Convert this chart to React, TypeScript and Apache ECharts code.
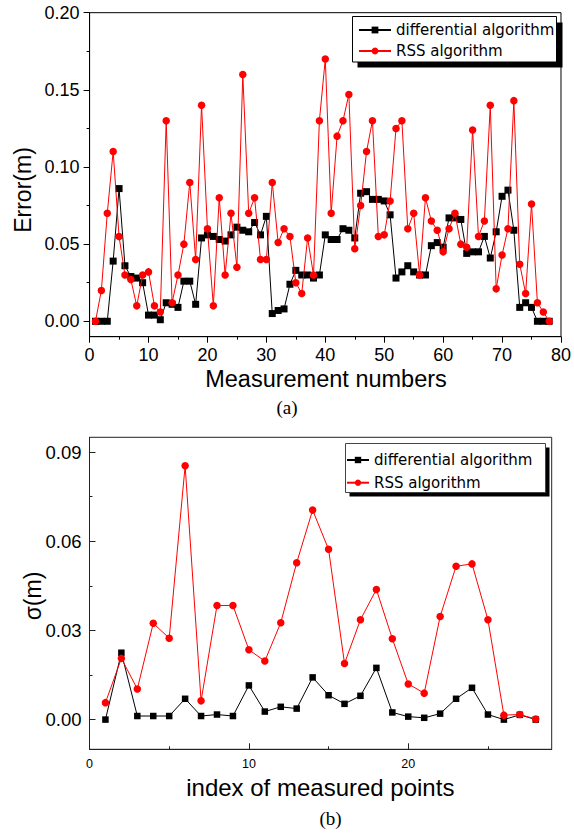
import React, { useEffect, useRef } from "react";
import * as echarts from "echarts";

// ---------- data ----------
const seriesNames = ["differential algorithm", "RSS algorithm"];

// (a) Error per measurement number (1..78)
const topIndex = Array.from({ length: 78 }, (_, i) => i + 1);
const topDifferential = [
  0, 0, 0, 0.039, 0.086, 0.036, 0.029, 0.028, 0.025, 0.004,
  0.004, 0.001, 0.012, 0.011, 0.009, 0.026, 0.026, 0.011, 0.054, 0.056,
  0.055, 0.053, 0.052, 0.056, 0.061, 0.059, 0.058, 0.064, 0.056, 0.068,
  0.005, 0.007, 0.008, 0.024, 0.033, 0.03, 0.03, 0.028, 0.03, 0.056,
  0.053, 0.053, 0.06, 0.059, 0.054, 0.083, 0.084, 0.079, 0.079, 0.078,
  0.069, 0.028, 0.032, 0.036, 0.032, 0.03, 0.03, 0.049, 0.051, 0.048,
  0.067, 0.067, 0.066, 0.044, 0.045, 0.045, 0.055, 0.041, 0.058, 0.081,
  0.085, 0.059, 0.009, 0.012, 0.009, 0, 0, 0,
];
const topRss = [
  0, 0.02, 0.07, 0.11, 0.055, 0.03, 0.027, 0.01, 0.03, 0.032,
  0.01, 0.006, 0.13, 0.012, 0.03, 0.05, 0.09, 0.04, 0.14, 0.06,
  0.01, 0.08, 0.03, 0.07, 0.035, 0.16, 0.07, 0.08, 0.04, 0.04,
  0.09, 0.051, 0.06, 0.055, 0.025, 0.018, 0.054, 0.03, 0.13, 0.17,
  0.07, 0.12, 0.13, 0.147, 0.047, 0.075, 0.11, 0.13, 0.055, 0.056,
  0.078, 0.125, 0.13, 0.06, 0.07, 0.03, 0.08, 0.065, 0.059, 0.045,
  0.06, 0.07, 0.05, 0.048, 0.124, 0.055, 0.065, 0.14, 0.021, 0.043,
  0.06, 0.143, 0.037, 0.018, 0.076, 0.012, 0.006, 0,
];

// (b) sigma per measured point (1..28)
const bottomIndex = Array.from({ length: 28 }, (_, i) => i + 1);
const bottomDifferential = [
  0, 0.0225, 0.0012, 0.0012, 0.0012, 0.007, 0.0012, 0.0017, 0.0012, 0.0115,
  0.0027, 0.0043, 0.0037, 0.0142, 0.0082, 0.0053, 0.008, 0.0174, 0.0024, 0.001,
  0.0006, 0.002, 0.007, 0.0107, 0.0017, 0, 0.0016, 0,
];
const bottomRss = [
  0.0057, 0.0206, 0.0103, 0.0324, 0.0274, 0.0854, 0.0063, 0.0384, 0.0384, 0.0235,
  0.0197, 0.0326, 0.0528, 0.0705, 0.0573, 0.0189, 0.0336, 0.0438, 0.0272, 0.012,
  0.0089, 0.0347, 0.0516, 0.0524, 0.0336, 0.0015, 0.0017, 0.0002,
];

// ticks
const topXTicks = [0, 10, 20, 30, 40, 50, 60, 70, 80];
const topXMinor = [5, 15, 25, 35, 45, 55, 65, 75];
const topYTicks = [0, 0.05, 0.1, 0.15, 0.2];
const topYMinor = [0.025, 0.075, 0.125, 0.175];
const bottomXTicks = [0, 10, 20];
const bottomXMinor = [5, 15, 25];
const bottomYTicks = [0, 0.03, 0.06, 0.09];
const bottomYMinor = [0.015, 0.045, 0.075];

const SANS = '"Liberation Sans", Arial, sans-serif';
const LEG = '"DejaVu Sans", Verdana, sans-serif';
const SERIF = '"Liberation Serif", "Times New Roman", serif';

function pairs(xs: number[], ys: number[]) {
  return xs.map((x, i) => [x, ys[i]]);
}

function majorAxis(
  grid: number,
  min: number,
  max: number,
  ticks: number[],
  inside: boolean,
  fontSize: number,
  margin: number,
  digits: number,
  position: string,
  color: string
) {
  return {
    type: "value",
    gridIndex: grid,
    position,
    min,
    max,
    axisLine: { show: true, onZero: false, lineStyle: { color, width: 1 } },
    axisTick: { show: true, inside, length: 6, customValues: ticks, lineStyle: { color, width: 1 } },
    axisLabel: {
      show: true,
      customValues: ticks,
      margin,
      color: "#000",
      fontFamily: SANS,
      fontSize,
      formatter: (v: number) => v.toFixed(digits),
    },
    splitLine: { show: false },
  };
}

function minorAxis(grid: number, min: number, max: number, ticks: number[], inside: boolean, position: string, color: string) {
  return {
    type: "value",
    gridIndex: grid,
    position,
    min,
    max,
    axisLine: { show: false, onZero: false },
    axisTick: { show: true, inside, length: 3, customValues: ticks, lineStyle: { color, width: 1 } },
    axisLabel: { show: false },
    splitLine: { show: false },
  };
}

export default function App() {
  const ref = useRef<HTMLDivElement>(null);

  useEffect(() => {
    if (!ref.current) return;
    const chart = echarts.init(ref.current, undefined, { renderer: "svg" });
    const option: any = {
      animation: false,
      backgroundColor: "#fff",
      grid: [
        { left: 89.6, top: 12.7, width: 473.7, height: 324, show: true, borderColor: "#000", borderWidth: 1, backgroundColor: "transparent" },
        { left: 89.5, top: 437.3, width: 462.2, height: 312, show: true, borderColor: "#222", borderWidth: 1, backgroundColor: "transparent" },
      ],
      xAxis: [
        majorAxis(0, 0, 80, topXTicks, false, 18, 9, 0, "bottom", "#000"),
        minorAxis(0, 0, 80, topXMinor, false, "bottom", "#000"),
        majorAxis(1, 0, 29, bottomXTicks, true, 12.5, 8, 0, "bottom", "#222"),
        minorAxis(1, 0, 29, bottomXMinor, true, "bottom", "#222"),
      ],
      yAxis: [
        majorAxis(0, -0.01, 0.2, topYTicks, false, 18, 10, 2, "left", "#000"),
        minorAxis(0, -0.01, 0.2, topYMinor, false, "left", "#000"),
        majorAxis(1, -0.01, 0.095, bottomYTicks, true, 18.5, 8, 2, "left", "#222"),
        minorAxis(1, -0.01, 0.095, bottomYMinor, true, "left", "#222"),
      ],
      legend: [
        {
          data: seriesNames,
          orient: "vertical",
          left: 358,
          top: 20,
          padding: 0,
          itemGap: 1,
          itemWidth: 32,
          itemHeight: 8.5,
          selectedMode: false,
          textStyle: { fontFamily: LEG, fontSize: 15, color: "#000", lineHeight: 20 },
          z: 20,
        },
        {
          data: seriesNames,
          orient: "vertical",
          left: 346,
          top: 450,
          padding: 0,
          itemGap: 2.7,
          itemWidth: 22,
          itemHeight: 8,
          selectedMode: false,
          textStyle: { fontFamily: LEG, fontSize: 15, color: "#000", lineHeight: 20 },
          z: 20,
        },
      ],
      graphic: [
        // legend (a) box + shadow
        { type: "rect", z: 10, shape: { x: 357.5, y: 22.5, width: 205, height: 45 }, style: { fill: "#000" } },
        { type: "rect", z: 11, shape: { x: 352.5, y: 16.5, width: 204, height: 45.5 }, style: { fill: "#fff", stroke: "#000", lineWidth: 1 } },
        // legend (b) box + shadow
        { type: "rect", z: 10, shape: { x: 349.5, y: 447.5, width: 200, height: 49 }, style: { fill: "#000" } },
        { type: "rect", z: 11, shape: { x: 345.5, y: 443.5, width: 200, height: 49 }, style: { fill: "#fff", stroke: "#444", lineWidth: 1 } },
        // axis titles
        {
          type: "text", x: 23, y: 190, rotation: Math.PI / 2, z: 30,
          style: { text: "Error(m)", fontFamily: SANS, fontSize: 23, fill: "#000", align: "center", verticalAlign: "middle" },
        },
        {
          type: "text", x: 326, y: 379, z: 30,
          style: { text: "Measurement numbers", fontFamily: SANS, fontSize: 23.5, fill: "#000", align: "center", verticalAlign: "middle" },
        },
        {
          type: "text", x: 287, y: 407, z: 30,
          style: { text: "(a)", fontFamily: SERIF, fontSize: 19, fill: "#000", align: "center", verticalAlign: "middle" },
        },
        {
          type: "text", x: 32.5, y: 596, rotation: Math.PI / 2, z: 30,
          style: { text: "σ(m)", fontFamily: SANS, fontSize: 23, fill: "#000", align: "center", verticalAlign: "middle" },
        },
        {
          type: "text", x: 320.3, y: 787, z: 30,
          style: { text: "index of measured points", fontFamily: SANS, fontSize: 24, fill: "#000", align: "center", verticalAlign: "middle" },
        },
        {
          type: "text", x: 330.5, y: 818, z: 30,
          style: { text: "(b)", fontFamily: SERIF, fontSize: 19, fill: "#000", align: "center", verticalAlign: "middle" },
        },
      ],
      series: [
        {
          name: seriesNames[0], type: "line", xAxisIndex: 0, yAxisIndex: 0,
          data: pairs(topIndex, topDifferential),
          symbol: "rect", symbolSize: 7, showAllSymbol: true,
          itemStyle: { color: "#000" }, lineStyle: { color: "#000", width: 1 }, z: 2,
        },
        {
          name: seriesNames[1], type: "line", xAxisIndex: 0, yAxisIndex: 0,
          data: pairs(topIndex, topRss),
          symbol: "circle", symbolSize: 7.5, showAllSymbol: true,
          itemStyle: { color: "#ff0000" }, lineStyle: { color: "#ff0000", width: 1 }, z: 3,
        },
        {
          name: seriesNames[0], type: "line", xAxisIndex: 2, yAxisIndex: 2,
          data: pairs(bottomIndex, bottomDifferential),
          symbol: "rect", symbolSize: 6.5, showAllSymbol: true,
          itemStyle: { color: "#000" }, lineStyle: { color: "#000", width: 1 }, z: 2,
        },
        {
          name: seriesNames[1], type: "line", xAxisIndex: 2, yAxisIndex: 2,
          data: pairs(bottomIndex, bottomRss),
          symbol: "circle", symbolSize: 7.5, showAllSymbol: true,
          itemStyle: { color: "#ff0000" }, lineStyle: { color: "#ff0000", width: 1 }, z: 3,
        },
      ],
    };
    chart.setOption(option);
    return () => chart.dispose();
  }, []);

  return (
    <div
      ref={ref}
      style={{ position: "absolute", left: 0, top: 0, width: 574, height: 833, background: "#fff" }}
    />
  );
}
